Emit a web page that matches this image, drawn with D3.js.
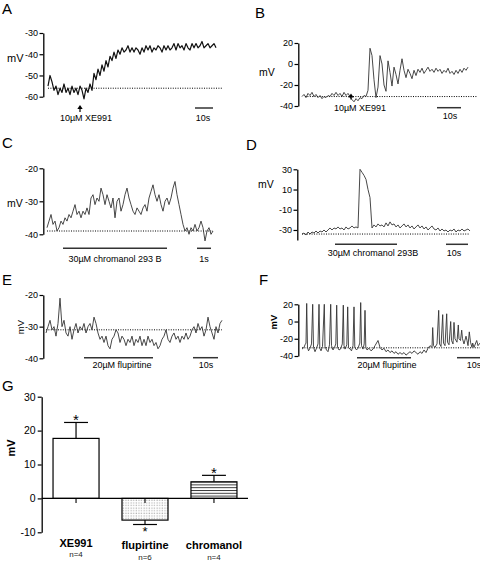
<!DOCTYPE html>
<html><head><meta charset="utf-8">
<script src="https://cdn.jsdelivr.net/npm/d3@7"></script>
<style>body{margin:0;background:#fff} svg text{font-family:"Liberation Sans",Arial,Helvetica,sans-serif}</style>
</head><body><svg id="c" width="480" height="561"></svg>
<script>
// ---------- DATA (mV) ----------
const traceA = [-55,-50,-53,-57,-55,-59,-56,-58,-54,-58,-56,-59,-55,-58,-56,-59,-55,-57,-61,-56,-58,-54,-57,-49,-52,-47,-50,-45,-48,-43,-46,-41,-43,-39,-42,-38,-40,-37,-39,-38,-36,-39,-37,-39,-37,-38,-40,-37,-39,-36,-38,-36,-39,-37,-38,-36,-37,-39,-36,-38,-36,-38,-37,-35,-38,-35,-37,-36,-38,-35,-37,-38,-35,-37,-35,-37,-36,-34,-37,-36,-35,-37,-36,-35,-37];
const traceB = [-31,-29,-32,-28,-30,-27,-31,-29,-32,-30,-33,-31,-32,-30,-31,-28,-30,-27,-30,-28,-31,-27,-30,-28,-31,-34,-36,-33,-35,-32,-33,-30,-31,-25,15,8,-15,-32,-22,8,0,-20,-26,3,-8,-21,-3,-10,-19,-6,5,-6,-13,-5,-9,-14,-6,-11,-5,-8,-4,-9,-6,-3,-7,-5,-8,-4,-7,-5,-9,-6,-8,-4,-9,-7,-10,-6,-9,-5,-8,-4,-6,-3];
const traceC = [-38,-36,-34,-37,-36,-39,-38,-36,-37,-35,-36,-34,-35,-33,-31,-34,-33,-35,-33,-34,-32,-34,-29,-28,-31,-29,-30,-26,-28,-31,-28,-30,-32,-29,-35,-30,-29,-33,-31,-28,-26,-29,-31,-33,-34,-32,-33,-34,-32,-31,-33,-29,-27,-25,-28,-30,-28,-31,-33,-30,-29,-31,-29,-26,-24,-28,-31,-34,-37,-39,-38,-40,-38,-39,-37,-39,-38,-36,-38,-42,-39,-38,-40,-39];
const traceD = [-34,-33,-35,-32,-34,-32,-33,-31,-33,-31,-32,-30,-32,-30,-28,-30,-28,-29,-27,-29,-28,-30,-27,-29,-28,-26,-28,-27,-28,30,27,24,20,10,2,-28,-25,-27,-24,-26,-25,-27,-23,-26,-22,-25,-24,-27,-25,-28,-26,-24,-27,-25,-28,-26,-29,-27,-25,-28,-26,-29,-27,-30,-28,-26,-29,-30,-28,-31,-29,-31,-30,-32,-30,-31,-29,-32,-30,-31,-29,-31,-30,-29,-31];
const traceE = [-32,-30,-28,-31,-30,-33,-29,-21,-30,-28,-32,-33,-30,-34,-31,-29,-32,-30,-31,-29,-32,-30,-29,-31,-27,-29,-32,-34,-33,-35,-33,-36,-37,-34,-33,-31,-32,-35,-33,-34,-36,-34,-35,-33,-36,-34,-35,-33,-36,-34,-36,-33,-35,-34,-36,-35,-37,-36,-34,-33,-31,-34,-35,-33,-32,-34,-33,-35,-33,-34,-32,-34,-33,-31,-30,-32,-29,-31,-30,-33,-31,-27,-30,-32,-34,-30,-32,-29,-28];
// F: [sample, mV]
const traceF = [[0,-32],[2,-30],[3,-27],[4,-25],[4.7,21],[5.5,-30],[6.5,-34],[8,-31],[9.5,-26],[10.7,20],[11.5,-30],[13,-35],[14.5,-31],[16,-26],[17,20],[17.8,-31],[19,-34],[20.5,-29],[22.3,20],[23,-29],[24.5,-33],[26,-35],[27.5,-27],[28.7,20],[29.5,-28],[31,-33],[32.5,-30],[33.8,-26],[34.7,19],[35.5,-30],[37,-33],[38.5,-32],[40.3,-26],[41.3,19],[42,-28],[43,-32],[44.8,-27],[45.7,17],[46.5,-30],[48,-32],[49.5,-34],[51,-28],[52,17],[52.8,-30],[54.5,-33],[56,-31],[57.8,-25],[58.7,22],[59.5,-28],[61,-32],[62.2,-26],[63,13],[63.8,-30],[65,-33],[67,-31],[69,-34],[71,-32],[73,-28],[76,-22],[78,-30],[80,-33],[82,-31],[84,-35],[86,-33],[88,-36],[90,-34],[92,-37],[94,-35],[96,-38],[98,-36],[100,-38],[102,-36],[104,-39],[106,-37],[108,-35],[110,-37],[112,-34],[114,-36],[116,-38],[118,-35],[120,-37],[122,-33],[124,-36],[126,-31],[128,-28],[130,-30],[130.7,-7],[131.5,-28],[133,-30],[135,-26],[136.7,13],[137.5,-26],[139,-29],[140.7,8],[141.5,-25],[143,-28],[144.7,9],[145.5,-24],[147,-27],[148.7,0],[149.5,-22],[151,-26],[152,-1],[153,-20],[155,-24],[156.3,-4],[157,-20],[158.5,-22],[159.7,-10],[160.5,-20],[162,-26],[164,-17],[165,-22],[166,-28],[167.3,-12],[168.5,-24],[170,-30],[170.7,-25],[172,-30],[174.7,-22],[176,-28],[178,-25]];

const ticksA = [-30,-40,-50,-60];
const ticksB = [20,0,-20,-40];
const ticksC = [-20,-30,-40];
const ticksD = [30,10,-10,-30];
const ticksE = [-20,-30,-40];
const ticksF = [20,0,-20,-40];

const barCategories = ["XE991","flupirtine","chromanol"];
const barN = ["n=4","n=6","n=4"];
const barMeans = [17.7,-6.4,4.9];
const barSems = [4.7,1.3,1.9];
const barTicks = [30,20,10,0,-10];

// ---------- LAYOUT ----------
const svg = d3.select("#c");
const FONT = '"Liberation Sans",Arial,sans-serif';
const defs = svg.append("defs");
const dots = defs.append("pattern").attr("id","dots").attr("patternUnits","userSpaceOnUse").attr("width",2.6).attr("height",2.6);
dots.append("rect").attr("width",2.6).attr("height",2.6).attr("fill","#fff");
dots.append("rect").attr("x",0.6).attr("y",0.6).attr("width",0.9).attr("height",0.9).attr("fill","#777");
const stripes = defs.append("pattern").attr("id","stripes").attr("patternUnits","userSpaceOnUse").attr("width",6).attr("height",2.8);
stripes.append("rect").attr("width",6).attr("height",2.8).attr("fill","#fff");
stripes.append("line").attr("x1",0).attr("x2",6).attr("y1",0.5).attr("y2",0.5).attr("stroke","#222").attr("stroke-width",0.9);

const panels = [
 {label:"A",lx:2,ly:14,data:traceA,xr:[48,216],yd:[-60,-30],yr:[96.7,33],ticks:ticksA,ax:43.3,
  mv:{x:7,y:62,rot:false,bold:false,size:11},base:-56,baseS:[0,87.4],
  drug:{type:"arrow",s:16,tip:105,bot:112,text:"10µM XE991",tx:86,ty:121},
  sb:{s:[73.5,82.5],y:108,text:"10s",tx:203,ty:121},color:"#111",sw:1.2},
 {label:"B",lx:255,ly:18,data:traceB,xr:[302,468],yd:[-40,20],yr:[106,43],ticks:ticksB,ax:298.3,
  mv:{x:259,y:75.5,rot:false,bold:false,size:10.5},base:-31,baseS:[1.5,87.5],
  drug:{type:"arrow",s:24.5,tip:93.5,bot:99.5,text:"10µM XE991",tx:360,ty:110.5},
  sb:{s:[67.5,79.5],y:107.7,text:"10s",tx:450,ty:119},color:"#333",sw:0.9},
 {label:"C",lx:2,ly:148,data:traceC,xr:[47,213],yd:[-40,-20],yr:[234.3,168.3],ticks:ticksC,ax:43.3,
  mv:{x:7,y:207,rot:false,bold:false,size:10.5},base:-39,baseS:[0,83],
  drug:{type:"bar",s:[8,60],y:248.3,text:"30µM chromanol 293 B",tx:115,ty:261.5},
  sb:{s:[75,82],y:248.3,text:"1s",tx:204,ty:261.5},color:"#333",sw:0.9},
 {label:"D",lx:246,ly:150,data:traceD,xr:[302,470],yd:[-40,30],yr:[240.1,169.3],ticks:ticksD,ax:297.3,
  mv:{x:258,y:187.5,rot:false,bold:false,size:10.5},base:-34,baseS:[0,84],
  drug:{type:"bar",s:[16.5,47.5],y:244.3,text:"30µM chromanol 293B",tx:373,ty:256},
  sb:{s:[72,83],y:244.3,text:"10s",tx:454,ty:256},color:"#333",sw:0.9},
 {label:"E",lx:2,ly:285,data:traceE,xr:[46,222],yd:[-40,-20],yr:[358.3,295],ticks:ticksE,ax:43.3,
  mv:{x:23.5,y:327,rot:true,bold:false,size:9.5},base:-31,baseS:[0,88],
  drug:{type:"bar",s:[19,53.5],y:357.7,text:"20µM flupirtine",tx:122,ty:368},
  sb:{s:[73.5,86],y:357.7,text:"10s",tx:206,ty:368},color:"#333",sw:0.9},
 {label:"F",lx:259,ly:285,data:traceF,xr:[302,480],xd:[0,178],yd:[-40,20],yr:[356,304.3],ticks:ticksF,ax:298.3,
  mv:{x:276.5,y:322,rot:true,bold:true,size:9.5},base:-30.5,baseS:[0,178],
  drug:{type:"bar",s:[55,109],y:357.7,text:"20µM flupirtine",tx:387,ty:368},
  sb:{s:[155,180],y:357.7,text:"10s",tx:474,ty:368},color:"#333",sw:0.9}
];

function styleAxis(g, fs){
  g.select(".domain").attr("stroke","#000").attr("stroke-width",1.3);
  g.selectAll(".tick line").attr("stroke","#000").attr("stroke-width",1.2);
  g.selectAll(".tick text").attr("font-size",fs).attr("fill","#000").attr("font-family",FONT);
}

panels.forEach(p=>{
  const g = svg.append("g");
  const n = Array.isArray(p.data[0]) ? null : p.data.length;
  const x = d3.scaleLinear().domain(p.xd || [0, n-1]).range(p.xr);
  const y = d3.scaleLinear().domain(p.yd).range(p.yr);
  g.append("text").attr("x",p.lx).attr("y",p.ly).attr("font-size",15).text(p.label);
  g.append("g").attr("transform",`translate(${p.ax},0)`)
   .call(d3.axisLeft(y).tickValues(p.ticks).tickSize(3.8).tickPadding(1.5).tickSizeOuter(0).tickFormat(d=>String(d)))
   .call(a=>styleAxis(a,9));
  const mv = g.append("text").attr("font-size",p.mv.size).attr("font-weight",p.mv.bold?"bold":"normal").text("mV");
  if(p.mv.rot) mv.attr("transform",`translate(${p.mv.x},${p.mv.y}) rotate(-90)`).attr("text-anchor","middle");
  else mv.attr("x",p.mv.x).attr("y",p.mv.y);
  g.append("line").attr("x1",x(p.baseS[0])).attr("x2",x(p.baseS[1])).attr("y1",y(p.base)).attr("y2",y(p.base))
   .attr("stroke","#000").attr("stroke-width",1).attr("stroke-dasharray","1,1.4");
  const line = d3.line()
    .x((d,i)=> Array.isArray(d) ? x(d[0]) : x(i))
    .y(d=> Array.isArray(d) ? y(d[1]) : y(d));
  g.append("path").datum(p.data).attr("d",line).attr("fill","none")
   .attr("stroke",p.color).attr("stroke-width",p.sw).attr("stroke-linejoin","round");
  const dr = p.drug;
  if(dr.type==="arrow"){
    const ax0 = x(dr.s);
    g.append("line").attr("x1",ax0).attr("x2",ax0).attr("y1",dr.tip+3).attr("y2",dr.bot).attr("stroke","#000").attr("stroke-width",1.2);
    g.append("path").attr("d",`M${ax0},${dr.tip} L${ax0-2.7},${dr.tip+4} L${ax0+2.7},${dr.tip+4} Z`).attr("fill","#000");
  } else {
    g.append("line").attr("x1",x(dr.s[0])).attr("x2",x(dr.s[1])).attr("y1",dr.y).attr("y2",dr.y).attr("stroke","#333").attr("stroke-width",1.5);
  }
  g.append("text").attr("x",dr.tx).attr("y",dr.ty).attr("text-anchor","middle").attr("font-size",9).text(dr.text);
  g.append("line").attr("x1",x(p.sb.s[0])).attr("x2",x(p.sb.s[1])).attr("y1",p.sb.y).attr("y2",p.sb.y).attr("stroke","#333").attr("stroke-width",1.5);
  g.append("text").attr("x",p.sb.tx).attr("y",p.sb.ty).attr("text-anchor","middle").attr("font-size",9).text(p.sb.text);
});

// ---------- PANEL G ----------
const gG = svg.append("g");
gG.append("text").attr("x",2).attr("y",391).attr("font-size",15).text("G");
const yG = d3.scaleLinear().domain([-10,30]).range([532.3,396.7]);
const xG = d3.scaleBand().domain(barCategories).range([42,248]).paddingInner(0.333).paddingOuter(0.16);
gG.append("g").attr("transform","translate(41.7,0)")
  .call(d3.axisLeft(yG).tickValues(barTicks).tickSize(4).tickPadding(2).tickSizeOuter(0).tickFormat(d=>String(d)))
  .call(a=>styleAxis(a,10.5));
gG.append("text").attr("transform","translate(14.5,448) rotate(-90)").attr("text-anchor","middle")
  .attr("font-size",11).attr("font-weight","bold").text("mV");
const fills = ["#fff","url(#dots)","url(#stripes)"];
barCategories.forEach((c,i)=>{
  const m = barMeans[i], s = barSems[i];
  const x0 = xG(c), bw = xG.bandwidth(), cx = x0 + bw/2;
  const yTop = yG(Math.max(0,m)), yBot = yG(Math.min(0,m));
  const eEnd = m>=0 ? yG(m+s) : yG(m-s);
  const eStart = m>=0 ? yTop : yBot;
  gG.append("line").attr("x1",cx).attr("x2",cx).attr("y1",eStart).attr("y2",eEnd).attr("stroke","#000").attr("stroke-width",1.2);
  gG.append("line").attr("x1",cx-bw*0.26).attr("x2",cx+bw*0.26).attr("y1",eEnd).attr("y2",eEnd).attr("stroke","#000").attr("stroke-width",1.2);
  gG.append("rect").attr("x",x0).attr("y",yTop).attr("width",bw).attr("height",yBot-yTop)
    .attr("fill",fills[i]).attr("stroke","#000").attr("stroke-width",1.2);
  gG.append("text").attr("x",cx).attr("y", m>=0 ? eEnd+3 : eEnd+11.5).attr("text-anchor","middle")
    .attr("font-size", m>=0 ? 15 : 13).text("*");
  gG.append("line").attr("x1",cx).attr("x2",cx).attr("y1",yG(0)).attr("y2",yG(0)+4.5).attr("stroke","#000").attr("stroke-width",1.1);
  gG.append("text").attr("x",cx).attr("y", i===0 ? 547 : 549).attr("text-anchor","middle").attr("font-size",11).attr("font-weight","bold").text(c);
  gG.append("text").attr("x",cx).attr("y", i===0 ? 556.5 : 559.7).attr("text-anchor","middle").attr("font-size",8).attr("fill","#222").text(barN[i]);
});
gG.append("line").attr("x1",41.7).attr("x2",248).attr("y1",yG(0)).attr("y2",yG(0)).attr("stroke","#000").attr("stroke-width",1.2);
</script></body></html>
